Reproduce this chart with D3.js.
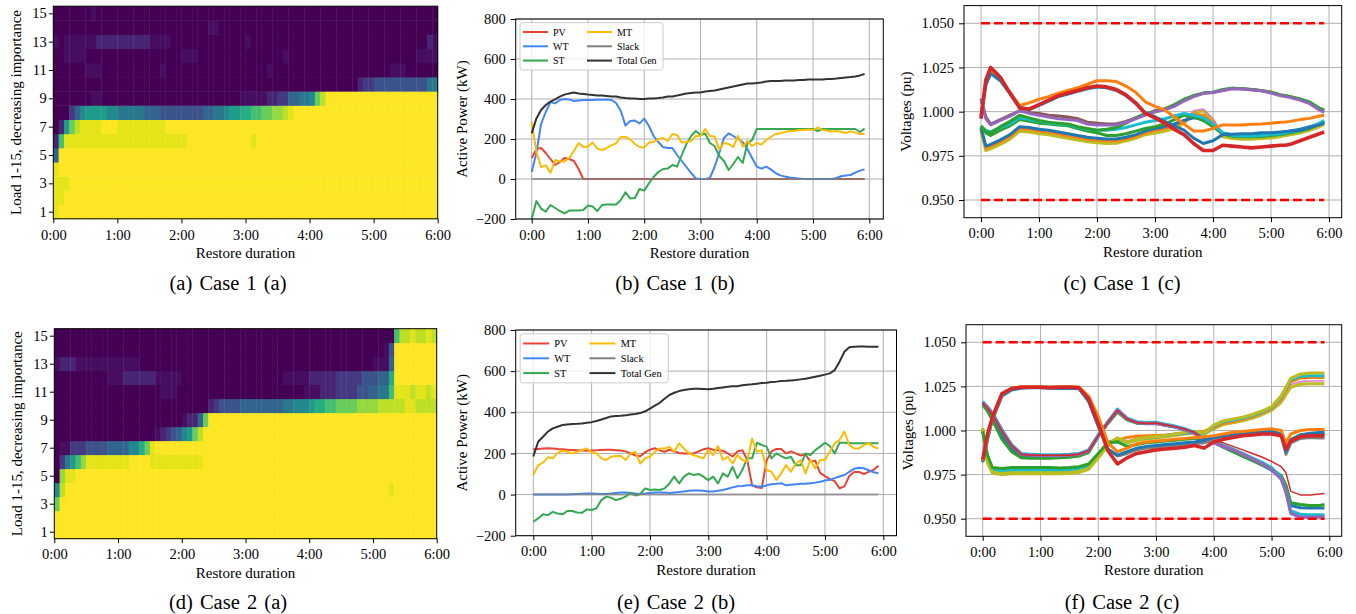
<!DOCTYPE html>
<html>
<head>
<meta charset="utf-8">
<script src="https://cdnjs.cloudflare.com/ajax/libs/d3/7.8.5/d3.min.js"></script>
<style>
  body { margin: 0; background: #ffffff; }
  svg { display: block; }
  svg text { font-family: "Liberation Serif", "Times New Roman", serif; }
</style>
</head>
<body>
<svg></svg>
<script>
const width = 1356;
const height = 614;
const serif = "'Liberation Serif', 'Times New Roman', serif";

// ---------- data ----------
const hourTicks = [0, 1, 2, 3, 4, 5, 6];
const hourLabels = ["0:00", "1:00", "2:00", "3:00", "4:00", "5:00", "6:00"];
const loadTicks = [1, 3, 5, 7, 9, 11, 13, 15];
const powerTicks = [-200, 0, 200, 400, 600, 800];
const voltTicks = [0.950, 0.975, 1.000, 1.025, 1.050];
const voltLimits = [1.05, 0.95];

// 5 minute steps for the power charts
const powerMin = d3.range(0, 360, 5);
// sample times (min) of the voltage traces
const voltMin = [0,5,10,20,30,40,50,60,70,80,90,100,110,120,130,140,150,160,170,180,
  190,200,210,220,230,240,250,260,270,280,290,300,310,315,320,330,340,350,355];

// heatmap: one string per load (load 1 first), 72 columns of 5 min,
// each hex code is a restored fraction read from the colour, see heatLevels
const heatLevels = [0, 0.035, 0.1, 0.17, 0.25, 0.32, 0.4, 0.47, 0.55, 0.62, 0.7, 0.77, 0.84, 0.9, 0.96, 1];
const case1Loads = [
  "EFFFFFFFFFFF FFFFFFFFFFFF FFFFFFFFFFFF FFFFFFFFFFFF FFFFFFFFFFFF FFFFFFFFFFFF",
  "EEFFFFFFFFFF FFFFFFFFFFFF FFFFFFFFFFFF FFFFFFFFFFFF FFFFFFFFFFFF FFFFFFFFFFFF",
  "EEEFFFFFFFFF FFFFFFFFFFFF FFFFFFFFFFFF FFFFFFFFFFFF FFFFFFFFFFFF FFFFFFFFFFFF",
  "EFFFFFFFFFFF FFFFFFFFFFFF FFFFFFFFFFFF FFFFFFFFFFFF FFFFFFFFFFFF FFFFFFFFFFFF",
  "5FFFFFFFFFFF FFFFFFFFFFFF FFFFFFFFFFFF FFFFFFFFFFFF FFFFFFFFFFFF FFFFFFFFFFFF",
  "2AEEEEEEEEEE EEEEEEEEEEEE EFFFFFFFFFFF FEFFFFFFFFFF FFFFFFFFFFFF FFFFFFFFFFFF",
  "028BDEEEEFFF EEEEEEEEEFFF FFFFFFFFFFFF FFFFFFFFFFFF FFFFFFFFFFFF FFFFFFFFFFFF",
  "000357888877 666665554444 444455667889 9AABBCCDEFFF FFFFFFFFFFFF FFFFFFFFFFFF",
  "000000011000 000000000000 000000000001 111122335566 7BDFFFFFFFFF FFFFFFFFFFFF",
  "000000000000 000000000000 000000000000 000000000000 000000000233 444444444466",
  "000000111000 000000001000 000000000000 000010000000 000000000000 000111000000",
  "001111000000 000000000000 111000000000 000000010000 000000000000 000000001111",
  "101111112222 222222111100 000000000000 100000000000 000000000000 000000000021",
  "000000000000 000000000000 000001100000 000000000000 000000000000 000000000000",
  "000000010000 000000000000 000000000000 000000000000 000000000000 000000000000"
];
const case2Loads = [
  "FFFFFFFFFFFF FFFFFFFFFFFF FFFFFFFFFFFF FFFFFFFFFFFF FFFFFFFFFFFF FFFFFFFFFFFF",
  "FFFFFFFFFFFF FFFFFFFFFFFF FFFFFFFFFFFF FFFFFFFFFFFF FFFFFFFFFFFF FFFFFFFFFFFF",
  "BFFFFFFFFFFF FFFFFFFFFFFF FFFFFFFFFFFF FFFFFFFFFFFF FFFFFFFFFFFF FFFFFFFFFFFF",
  "7DFFFFFFFFFF FFFFFFFFFFFF FFFFFFFFFFFF FFFFFFFFFFFF FFFFFFFFFFFF FFFEFFFFFFFF",
  "0CEEFFFFFFFF FFFFFFFFFFFF FFFFFFFFFFFF FFFFFFFFFFFF FFFFFFFFFFFF FFFFFFFFFFFF",
  "0368ACEEEEEE EEFFFFEEEEEE EEEEFFFFFFFF FFFFFFFFFFFF FFFFFFFFFFFF FFFFFFFFFFFF",
  "011333444455 55779BEFFFFF FFFFFFFFFFFF FFFFFFFFFFFF FFFFFFFFFFFF FFFFFFFFFFFF",
  "000000000000 000000012345 78BDFFFFFFFF FFFFFFFFFFFF FFFFFFFFFFFF FFFFFFFFFFFF",
  "000000000000 000000000000 1225BFFFFFFF FFFFFFFFFFFF FFFFFFFFFFFF FFFFFFFFFFFF",
  "000000000000 000000000000 000002344445 555555566777 899AABBBBCCC CDDDDDEEDDDD",
  "000000000000 000000001110 000000000000 000000000001 112223333445 566AEEEDEEDE",
  "000000000011 122222211111 000000000000 000000011111 222223333344 4559FFFFFFFF",
  "122211111111 111100000000 000000000000 000000000000 000000000000 1115FFFFFFFF",
  "000000000000 000000000000 000000000000 000000000000 000000000000 0014FFFFFFFF",
  "000000000000 000000000000 000000000000 000000000000 000000000000 0000ADDEDDED"
];

// active power (kW), case 1
const case1PV = [105,150,155,130,100,70,85,105,100,90,50,0, 0,0,0,0,0,0,0,0,0,0,0,0,
  0,0,0,0,0,0,0,0,0,0,0,0, 0,0,0,0,0,0,0,0,0,0,0,0, 0,0,0,0,0,0,0,0,0,0,0,0, 0,0,0,0,0,0,0,0,0,0,0,0];
const case1WT = [35,130,275,335,385,378,395,400,398,390,393,395, 395,395,396,396,397,395,380,340,267,290,292,278,
  302,265,215,185,160,155,155,120,90,60,30,3, 0,0,5,60,130,205,228,215,200,185,150,105,
  62,52,62,48,30,18,12,8,5,2,0,0, 0,0,0,0,0,5,14,17,20,32,42,48];
const case1ST = [-200,-110,-148,-163,-130,-145,-160,-172,-158,-158,-157,-155, -133,-138,-160,-130,-127,-127,-127,-105,-67,-97,-95,-50,
  -58,-22,10,35,50,52,70,62,120,175,215,240, 220,228,180,165,115,90,45,75,110,80,178,195,
  250,250,250,250,250,250,250,250,250,250,250,250, 250,240,250,250,250,250,250,250,250,250,235,252];
const case1MT = [285,135,60,68,32,95,88,88,105,140,180,160, 162,182,152,145,155,168,178,210,210,198,175,160,
  158,182,185,198,205,190,225,220,182,185,190,215, 215,250,215,212,148,180,175,160,215,162,190,165,
  180,172,195,210,225,228,235,240,240,245,245,248, 245,258,245,242,238,240,236,230,238,232,225,225];
const case1Slack = [0,0,0,0,0,0,0,0,0,0,0,0, 0,0,0,0,0,0,0,0,0,0,0,0, 0,0,0,0,0,0,0,0,0,0,0,0,
  0,0,0,0,0,0,0,0,0,0,0,0, 0,0,0,0,0,0,0,0,0,0,0,0, 0,0,0,0,0,0,0,0,0,0,0,0];
const case1Total = [228,303,345,370,387,398,412,422,428,432,428,425, 422,420,418,417,415,413,412,408,405,403,402,400,
  400,402,403,405,408,412,413,417,422,427,430,432, 433,437,440,443,448,453,458,463,468,473,477,478,
  480,483,488,490,490,490,492,492,493,495,495,497, 497,498,498,500,500,502,505,508,510,513,518,525];

// active power (kW), case 2
const case2PV = [220,222,224,225,224,221,220,218,217,216,214,213, 214,215,217,218,218,216,214,210,200,190,186,205,
  218,225,215,208,218,210,202,200,200,200,210,220, 225,218,215,213,200,185,210,215,170,45,35,32,
  165,210,222,222,200,210,200,190,195,160,165,105, 90,75,65,30,40,90,110,110,100,110,120,140];
const case2WT = [0,0,0,0,0,0,0,0,2,3,4,5, 5,4,3,3,5,8,10,10,8,5,3,5,
  8,10,10,10,8,10,12,15,18,20,20,18, 15,15,18,22,28,35,40,42,45,45,40,38,
  45,50,52,55,45,48,50,52,52,55,58,62, 68,72,80,88,95,110,125,130,128,118,108,104];
const case2ST = [-132,-116,-96,-100,-84,-92,-96,-80,-80,-87,-89,-72, -75,-67,-27,-10,-15,-27,-20,-10,9,-5,3,30,
  22,25,22,30,54,87,54,87,103,95,100,87, 70,87,54,103,87,135,79,119,176,176,252,241,
  233,176,200,187,176,184,143,143,200,192,216,233, 252,236,200,252,252,250,250,250,250,250,250,249];
const case2MT = [95,143,155,181,176,203,213,208,200,208,216,224, 205,200,176,168,184,187,187,168,200,208,151,176,
  184,208,224,224,232,208,249,224,200,192,184,176, 216,192,236,168,184,151,192,168,160,273,208,216,
  119,111,71,103,143,111,151,168,103,168,127,168, 168,208,249,265,306,241,224,224,241,249,232,224];
const case2Slack = [0,0,0,0,0,0,0,0,0,0,0,0, 0,0,0,0,0,0,0,0,0,0,0,0, 0,0,0,0,0,0,0,0,0,0,0,0,
  0,0,0,0,0,0,0,0,0,0,0,0, 0,0,0,0,0,0,0,0,0,0,0,0, 0,0,0,0,0,0,0,0,0,0,0,0];
const case2Total = [185,257,281,306,322,330,338,341,343,344,346,349, 352,358,365,372,380,382,383,385,389,392,396,405,
  418,432,446,466,484,495,503,508,512,514,514,513, 512,514,518,521,524,526,527,531,534,536,539,542,
  544,547,549,552,553,555,557,560,563,568,573,578, 583,589,605,646,694,716,719,720,720,719,719,719];

const seriesNames = ["PV", "WT", "ST", "MT", "Slack", "Total Gen"];

// bus voltages (pu), case 1
const c1vRed = [0.996,1.018,1.025,1.0195,1.0105,1.002,1.0015,1.004,1.0065,1.009,1.0105,1.012,1.0135,1.0145,1.014,1.0125,1.0095,1.005,0.999,0.9965,
  0.9935,0.990,0.987,0.982,0.978,0.978,0.981,0.9805,0.980,0.9795,0.980,0.9805,0.981,0.981,0.9815,0.9835,0.9855,0.9875,0.9885];
const c1vBlue = [0.998,1.015,1.0215,1.0175,1.010,1.0025,1.0012,1.0035,1.006,1.0085,1.010,1.0115,1.013,1.014,1.0135,1.012,1.009,1.0045,0.9995,0.997,
  0.9945,0.992,0.9895,0.985,0.982,0.9835,0.987,0.9872,0.9875,0.9875,0.988,0.988,0.9885,0.9888,0.989,0.9895,0.991,0.9925,0.9935];
const c1vOrange = [0.997,1.016,1.0225,1.018,1.011,1.0035,1.005,1.007,1.0085,1.0105,1.012,1.0135,1.0155,1.0175,1.0175,1.017,1.0145,1.011,1.0055,1.003,
  1.001,0.997,0.993,0.989,0.989,0.9905,0.9925,0.9925,0.9925,0.9928,0.993,0.9935,0.994,0.9942,0.9945,0.9955,0.9962,0.9975,0.998];
const c1vBrown = [1.007,0.997,0.993,0.9955,0.998,1.0005,0.9995,0.999,0.998,0.9975,0.997,0.996,0.994,0.9935,0.993,0.993,0.9945,0.9965,0.9985,1.0005,
  1.0015,1.0035,1.0065,1.009,1.0105,1.011,1.012,1.0132,1.013,1.0125,1.012,1.011,1.0095,1.009,1.0085,1.007,1.005,1.0015,1.0005];
const c1vPurple = [1.0075,0.996,0.9925,0.995,0.9975,1.0005,0.999,0.998,0.997,0.996,0.9955,0.995,0.993,0.9925,0.9925,0.9925,0.994,0.996,0.998,1.000,
  1.001,1.003,1.006,1.0085,1.0102,1.0108,1.012,1.013,1.0128,1.0122,1.0118,1.0105,1.009,1.0085,1.008,1.0065,1.0045,1.001,0.9995];
const c1vGreen = [0.992,0.9885,0.988,0.9915,0.9945,0.998,0.9965,0.995,0.994,0.9935,0.993,0.9915,0.9905,0.9895,0.990,0.991,0.9935,0.9965,0.999,1.000,
  1.0015,1.004,1.007,1.009,1.0105,1.011,1.0125,1.0132,1.013,1.0125,1.0118,1.011,1.0095,1.009,1.0085,1.0072,1.0055,1.002,1.001];
const c1vCyan = [0.9915,0.9895,0.9885,0.991,0.993,0.9965,0.9955,0.9945,0.9935,0.993,0.9925,0.991,0.990,0.9895,0.9895,0.990,0.991,0.9925,0.994,0.995,
  0.996,0.9975,0.999,0.998,0.9965,0.993,0.988,0.9865,0.9862,0.9862,0.9865,0.987,0.9875,0.988,0.9885,0.9895,0.991,0.9935,0.995];
const c1vGreen2 = [0.991,0.988,0.9865,0.9895,0.992,0.9955,0.9945,0.9935,0.993,0.9925,0.992,0.9905,0.989,0.988,0.9865,0.9865,0.9875,0.989,0.9905,0.9915,
  0.993,0.9955,0.998,0.997,0.995,0.9915,0.9875,0.986,0.9858,0.9858,0.986,0.9865,0.987,0.9875,0.988,0.989,0.9905,0.993,0.9945];
const c1vBlue2 = [0.991,0.9805,0.9815,0.984,0.987,0.9915,0.991,0.990,0.9895,0.9885,0.9875,0.9865,0.9855,0.985,0.9845,0.9845,0.9855,0.987,0.989,0.9905,
  0.9915,0.993,0.995,0.9965,0.996,0.992,0.988,0.987,0.9868,0.9868,0.987,0.9875,0.988,0.9885,0.989,0.990,0.9915,0.993,0.9945];
const c1vOrange2 = [0.9905,0.9795,0.9805,0.983,0.986,0.9905,0.990,0.989,0.9885,0.9875,0.9865,0.9855,0.9845,0.984,0.9835,0.9835,0.9845,0.986,0.988,0.9895,
  0.9905,0.992,0.9945,0.9985,0.998,0.9935,0.9875,0.9862,0.986,0.986,0.9862,0.9868,0.9875,0.988,0.9885,0.9895,0.991,0.993,0.994];
const c1vPink = [0.9905,0.9792,0.9802,0.9827,0.9857,0.9902,0.9897,0.9887,0.9882,0.9872,0.9862,0.9852,0.9842,0.9837,0.9832,0.9834,0.9847,0.9862,0.9882,0.9892,
  0.9902,0.9917,0.9947,1.0005,1.0015,0.996,0.9872,0.986,0.9857,0.9857,0.986,0.9864,0.9872,0.9877,0.9882,0.9892,0.9907,0.9927,0.9942];
const c1vOlive = [0.9895,0.978,0.979,0.9815,0.9845,0.989,0.9885,0.9875,0.987,0.986,0.985,0.984,0.983,0.9825,0.982,0.9822,0.9835,0.985,0.987,0.988,
  0.989,0.9905,0.9935,0.9995,1.0005,0.995,0.986,0.9848,0.9845,0.9845,0.9848,0.9852,0.986,0.9865,0.987,0.988,0.9895,0.9915,0.993];

// bus voltages (pu), case 2
const c2vGray = [0.9825,0.996,1.0065,1.020,1.0235,1.0247,1.0248,1.0248,1.0246,1.0247,1.0248,1.0243,1.017,1.003,0.9895,0.9855,0.987,0.989,0.990,0.9905,
  0.991,0.9915,0.992,0.9925,0.993,0.995,0.996,0.997,0.998,0.9985,0.999,0.999,0.9975,0.9865,0.993,0.9955,0.996,0.9958,0.9958];
const c2vBlue = [0.982,0.995,1.006,1.0195,1.023,1.024,1.0242,1.0242,1.024,1.0238,1.024,1.0236,1.0165,1.0025,0.9895,0.986,0.988,0.990,0.991,0.9915,
  0.992,0.9925,0.993,0.9935,0.9945,0.996,0.997,0.998,0.9985,0.999,0.9995,0.9995,0.998,0.988,0.9945,0.9975,0.9985,0.9988,0.9988];
const c2vOrange = [0.983,0.9965,1.007,1.0205,1.024,1.0248,1.0248,1.0247,1.0245,1.0248,1.0248,1.0246,1.0195,1.008,0.993,0.988,0.990,0.9925,0.9935,0.994,
  0.9945,0.995,0.9955,0.996,0.9965,0.997,0.998,0.999,0.9995,1.000,1.0005,1.001,1.000,0.993,0.998,1.000,1.0005,1.0005,1.0005];
const c2vRed = [0.9835,0.998,1.0075,1.021,1.0238,1.0245,1.0245,1.0245,1.0242,1.0245,1.0245,1.0242,1.018,1.004,0.9885,0.981,0.9845,0.987,0.988,0.989,
  0.9895,0.990,0.9905,0.9915,0.990,0.9935,0.995,0.996,0.997,0.9975,0.998,0.998,0.997,0.9895,0.994,0.9965,0.997,0.997,0.997];
const c2vCyan = [1.0165,1.0135,1.010,1.0005,0.992,0.987,0.9865,0.9862,0.9862,0.9862,0.9865,0.987,0.989,0.9975,1.005,1.0122,1.007,1.005,1.0046,1.0047,
  1.0035,1.0025,1.001,0.999,0.9945,0.9937,0.9915,0.9895,0.987,0.9845,0.982,0.979,0.9735,0.966,0.9545,0.9525,0.9522,0.9522,0.9522];
const c2vPurple = [1.016,1.013,1.0095,1.000,0.9915,0.9865,0.986,0.9857,0.9857,0.9857,0.986,0.9865,0.9885,0.997,1.0045,1.0115,1.0065,1.0045,1.004,1.0042,
  1.003,1.002,1.0005,0.9985,0.994,0.993,0.991,0.989,0.9865,0.984,0.9812,0.978,0.9725,0.965,0.953,0.951,0.9508,0.951,0.951];
const c2vGreen = [1.0145,1.011,1.006,0.995,0.988,0.9845,0.9843,0.9843,0.9843,0.9845,0.9848,0.9855,0.9875,0.9965,1.004,1.0105,1.006,1.0042,1.0038,1.004,
  1.003,1.002,1.0005,0.9985,0.995,0.9935,0.9905,0.988,0.9855,0.983,0.9805,0.978,0.9745,0.969,0.959,0.958,0.9575,0.9575,0.958];
const c2vBlue2 = [1.0155,1.012,1.0075,0.997,0.9895,0.9855,0.985,0.985,0.985,0.985,0.9852,0.986,0.988,0.997,1.0045,1.011,1.0062,1.0043,1.0039,1.0041,
  1.003,1.002,1.0005,0.9985,0.9945,0.9932,0.9905,0.988,0.9855,0.983,0.9805,0.9775,0.9735,0.967,0.9575,0.9562,0.956,0.956,0.956];
const c2vRed2 = [1.0155,1.0125,1.009,0.9995,0.9915,0.9865,0.986,0.986,0.986,0.986,0.986,0.9865,0.9885,0.997,1.0045,1.0115,1.0065,1.0045,1.004,1.0042,
  1.0032,1.0022,1.0008,0.999,0.9955,0.9945,0.993,0.991,0.989,0.987,0.985,0.9825,0.9795,0.976,0.9655,0.9635,0.9635,0.964,0.9643];
const c2vOliveTop = [1.0015,0.982,0.9765,0.9755,0.976,0.976,0.976,0.976,0.976,0.976,0.9762,0.9768,0.9785,0.985,0.992,0.9958,0.9935,0.995,0.996,0.9965,
  0.997,0.998,0.999,0.9995,0.9985,1.003,1.0055,1.0065,1.0075,1.009,1.011,1.0135,1.0195,1.0245,1.0295,1.032,1.0325,1.0326,1.0326];
const c2vCyan2 = [1.0005,0.983,0.978,0.977,0.9775,0.9775,0.9775,0.9775,0.9775,0.9775,0.9777,0.9782,0.98,0.986,0.9925,0.9955,0.9935,0.995,0.9958,0.9963,
  0.997,0.998,0.9985,0.999,0.998,1.0025,1.005,1.006,1.007,1.0085,1.0105,1.013,1.019,1.024,1.0285,1.0308,1.031,1.031,1.031];
const c2vOrange2 = [1.000,0.984,0.9785,0.9772,0.9775,0.9775,0.9775,0.9775,0.9775,0.9772,0.9775,0.978,0.9795,0.9865,0.9935,0.9945,0.996,0.9968,0.997,0.9972,
  0.9975,0.998,0.9985,0.999,0.9995,1.002,1.004,1.005,1.0065,1.008,1.010,1.0125,1.018,1.023,1.0275,1.0298,1.030,1.030,1.030];
const c2vPink = [1.0,0.9835,0.978,0.9768,0.977,0.977,0.977,0.977,0.977,0.977,0.9772,0.9778,0.9795,0.986,0.9925,0.995,0.9935,0.9948,0.9955,0.996,
  0.9968,0.9975,0.998,0.9985,0.998,1.0015,1.004,1.005,1.006,1.0075,1.0095,1.012,1.017,1.022,1.026,1.0278,1.028,1.028,1.028];
const c2vOliveLow = [1.001,0.9815,0.976,0.975,0.9755,0.9755,0.9755,0.9755,0.9755,0.9755,0.9757,0.9762,0.978,0.9845,0.9915,0.9955,0.993,0.9945,0.9952,0.9958,
  0.9965,0.9972,0.998,0.9985,0.998,1.001,1.0035,1.0045,1.0055,1.007,1.009,1.0115,1.016,1.0205,1.0245,1.0263,1.0265,1.0265,1.0265];
const c2vGreen2 = [0.9995,0.986,0.979,0.9785,0.979,0.979,0.979,0.979,0.979,0.9788,0.979,0.9795,0.981,0.987,0.993,0.9935,0.991,0.992,0.993,0.9935,
  0.994,0.9945,0.995,0.9955,0.9955,0.9965,0.997,0.998,0.9985,0.999,0.9995,0.9995,0.998,0.989,0.995,0.9975,0.998,0.9982,0.9982];

// ---------- layout & styles ----------
const tab = d3.schemeCategory10;
const powerColors = ["#ea4335", "#4285f4", "#34a853", "#fbbc05", "#808080", "#333333"];

const panels = {
  a: { x0: 53.3, x1: 437.7, y0: 6.2, y1: 218.8, t0: 53.3, t6: 437.7, v15: 13.3, v1: 211.7 },
  d: { x0: 54.3, x1: 436.7, y0: 328.7, y1: 538.7, t0: 54.3, t6: 436.7, v15: 335.7, v1: 531.7 },
  b: { x0: 515.7, x1: 883.3, y0: 19, y1: 219, t0: 531.7, t6: 869.3 },
  e: { x0: 515.7, x1: 896.5, y0: 330, y1: 535.7, t0: 533.3, t6: 883.3 },
  c: { x0: 964, x1: 1341.7, y0: 5.6, y1: 217.7, t0: 981, t6: 1329, vHi: 23.3, vLo: 200 },
  f: { x0: 966, x1: 1341.7, y0: 324.7, y1: 536.3, t0: 982.7, t6: 1329.3, vHi: 342.3, vLo: 518.7 }
};

let svg = d3.select("svg")
  .attr("width", width)
  .attr("height", height)
  .attr("font-family", serif);

function styleAxis(g) {
  g.attr("font-family", serif).attr("font-size", 14.5);
  g.select(".domain").remove();
}

function addFrame(box) {
  svg.append("rect")
    .attr("x", box.x0).attr("y", box.y0)
    .attr("width", box.x1 - box.x0).attr("height", box.y1 - box.y0)
    .attr("fill", "none").attr("stroke", "#000").attr("stroke-width", 1);
}

function addXAxis(box, x) {
  svg.append("g")
    .attr("transform", `translate(0,${box.y1})`)
    .call(d3.axisBottom(x).tickValues(hourTicks).tickFormat(h => hourLabels[h])
      .tickSize(4.5).tickPadding(6).tickSizeOuter(0))
    .call(styleAxis);
  svg.append("text")
    .attr("x", (box.x0 + box.x1) / 2).attr("y", box.y1 + 39)
    .attr("text-anchor", "middle").attr("font-size", 15)
    .text("Restore duration");
}

function addYLabel(cx, box, label) {
  const cy = (box.y0 + box.y1) / 2;
  svg.append("text")
    .attr("transform", `translate(${cx},${cy}) rotate(-90)`)
    .attr("text-anchor", "middle").attr("dominant-baseline", "central")
    .attr("font-size", 15)
    .text(label);
}

function addGrid(box, x, y, yTicks) {
  const g = svg.append("g").attr("stroke", "#b0b0b0").attr("stroke-width", 1);
  hourTicks.forEach(h => g.append("line")
    .attr("x1", x(h)).attr("x2", x(h)).attr("y1", box.y0).attr("y2", box.y1));
  yTicks.forEach(v => g.append("line")
    .attr("x1", box.x0).attr("x2", box.x1).attr("y1", y(v)).attr("y2", y(v)));
}

function addCaption(cx, cy, text) {
  svg.append("text").attr("x", cx).attr("y", cy)
    .attr("text-anchor", "middle").attr("font-size", 20.5)
    .attr("word-spacing", 2)
    .text(text);
}

// ---------- heatmap ----------
function drawHeatmap(rows, box, ylabelX) {
  const x = d3.scaleLinear().domain([0, 6]).range([box.t0, box.t6]);
  const y = d3.scaleLinear().domain([1, 15]).range([box.v1, box.v15]);
  const cells = [];
  rows.forEach((row, r) => {
    row.replace(/ /g, "").split("").forEach((ch, c) => {
      cells.push({ load: r + 1, col: c, v: heatLevels[parseInt(ch, 16)] });
    });
  });
  const cw = x(5 / 60) - x(0);
  const ch = y(1) - y(2);
  svg.append("g").selectAll("rect")
    .data(cells)
    .enter()
    .append("rect")
    .attr("x", d => x(d.col * 5 / 60))
    .attr("y", d => y(d.load + 0.5))
    .attr("width", cw + 0.4)
    .attr("height", ch + 0.4)
    .attr("fill", d => d3.interpolateViridis(d.v));
  addFrame(box);
  addXAxis(box, x);
  svg.append("g")
    .attr("transform", `translate(${box.x0},0)`)
    .call(d3.axisLeft(y).tickValues(loadTicks).tickSize(4.5).tickPadding(2).tickSizeOuter(0))
    .call(styleAxis);
  addYLabel(ylabelX, box, "Load 1-15, decreasing importance");
}

// ---------- active power ----------
function drawPower(series, box) {
  const x = d3.scaleLinear().domain([0, 6]).range([box.t0, box.t6]);
  const y = d3.scaleLinear().domain([-200, 800]).range([box.y1, box.y0]);
  addGrid(box, x, y, powerTicks);

  const line = d3.line()
    .x((d, i) => x(powerMin[i] / 60))
    .y(d => y(d));
  series.forEach((vals, k) => {
    svg.append("path")
      .datum(vals)
      .attr("d", line)
      .attr("fill", "none")
      .attr("stroke", powerColors[k])
      .attr("stroke-opacity", seriesNames[k] === "Slack" ? 0.7 : 1)
      .attr("stroke-width", 2)
      .attr("stroke-linejoin", "round");
  });

  addFrame(box);
  addXAxis(box, x);
  svg.append("g")
    .attr("transform", `translate(${box.x0},0)`)
    .call(d3.axisLeft(y).tickValues(powerTicks).tickFormat(d3.format("d"))
      .tickSize(5).tickPadding(5).tickSizeOuter(0))
    .call(styleAxis);
  addYLabel(462, box, "Active Power (kW)");

  // legend, two columns
  const s = (box.x1 - box.x0) / 367.6;
  const lx = box.x0 + 4.3 * s;
  const ly = box.y0 + 3.7 * s;
  const leg = svg.append("g");
  leg.append("rect")
    .attr("x", lx).attr("y", ly)
    .attr("width", 143 * s).attr("height", 47.3 * s)
    .attr("rx", 2.5)
    .attr("fill", "#fff").attr("fill-opacity", 0.8)
    .attr("stroke", "#cccccc").attr("stroke-width", 1);
  seriesNames.forEach((name, k) => {
    const col = Math.floor(k / 3);
    const row = k % 3;
    const xx = lx + (col ? 67 : 3) * s;
    const yy = ly + (9.3 + row * 14.3) * s;
    leg.append("line")
      .attr("x1", xx).attr("x2", xx + 25 * s)
      .attr("y1", yy).attr("y2", yy)
      .attr("stroke", powerColors[k]).attr("stroke-width", 2);
    leg.append("text")
      .attr("x", xx + 30 * s).attr("y", yy)
      .attr("dy", "0.35em")
      .attr("font-size", 10 * s)
      .text(name);
  });
}

// ---------- voltages ----------
function drawVoltage(traces, box) {
  const x = d3.scaleLinear().domain([0, 6]).range([box.t0, box.t6]);
  const y = d3.scaleLinear().domain([0.95, 1.05]).range([box.vLo, box.vHi]);
  addGrid(box, x, y, voltTicks);

  const line = d3.line()
    .x((d, i) => x(voltMin[i] / 60))
    .y(d => y(d));
  traces.forEach(tr => {
    svg.append("path")
      .datum(tr.v)
      .attr("d", line)
      .attr("fill", "none")
      .attr("stroke", tr.c)
      .attr("stroke-width", tr.w)
      .attr("stroke-linejoin", "round");
  });

  // limits
  voltLimits.forEach(v => {
    svg.append("line")
      .attr("x1", x(0)).attr("x2", x(voltMin[voltMin.length - 1] / 60))
      .attr("y1", y(v)).attr("y2", y(v))
      .attr("stroke", "#ff0000").attr("stroke-width", 2.5)
      .attr("stroke-dasharray", "9,4");
  });

  addFrame(box);
  addXAxis(box, x);
  svg.append("g")
    .attr("transform", `translate(${box.x0},0)`)
    .call(d3.axisLeft(y).tickValues(voltTicks).tickFormat(d3.format(".3f"))
      .tickSize(5).tickPadding(5).tickSizeOuter(0))
    .call(styleAxis);
  addYLabel(box.x0 - 58, box, "Voltages (pu)");
}

// ---------- draw ----------
drawHeatmap(case1Loads, panels.a, 16);
drawHeatmap(case2Loads, panels.d, 17);

drawPower([case1PV, case1WT, case1ST, case1MT, case1Slack, case1Total], panels.b);
drawPower([case2PV, case2WT, case2ST, case2MT, case2Slack, case2Total], panels.e);

drawVoltage([
  { v: c1vOlive, c: tab[8], w: 3.2 },
  { v: c1vPink, c: tab[6], w: 1.5 },
  { v: c1vOrange2, c: tab[1], w: 3 },
  { v: c1vBlue2, c: tab[0], w: 3 },
  { v: c1vGreen2, c: tab[2], w: 3 },
  { v: c1vCyan, c: tab[9], w: 3 },
  { v: c1vBrown, c: tab[5], w: 3 },
  { v: c1vGreen, c: tab[2], w: 3 },
  { v: c1vPurple, c: tab[4], w: 3 },
  { v: c1vOrange, c: tab[1], w: 3 },
  { v: c1vBlue, c: tab[0], w: 3 },
  { v: c1vRed, c: tab[3], w: 3.6 }
], panels.c);

drawVoltage([
  { v: c2vOliveLow, c: tab[8], w: 3.2 },
  { v: c2vPink, c: tab[6], w: 1.5 },
  { v: c2vOrange2, c: tab[1], w: 3 },
  { v: c2vCyan2, c: tab[9], w: 3 },
  { v: c2vOliveTop, c: tab[8], w: 3.2 },
  { v: c2vGreen2, c: tab[2], w: 3 },
  { v: c2vBlue2, c: tab[0], w: 3 },
  { v: c2vGreen, c: tab[2], w: 3 },
  { v: c2vCyan, c: tab[9], w: 3 },
  { v: c2vPurple, c: tab[4], w: 3.2 },
  { v: c2vRed2, c: tab[3], w: 1.5 },
  { v: c2vGray, c: tab[7], w: 3 },
  { v: c2vBlue, c: tab[0], w: 3 },
  { v: c2vOrange, c: tab[1], w: 3 },
  { v: c2vRed, c: tab[3], w: 3.5 }
], panels.f);

addCaption(228, 290, "(a) Case 1 (a)");
addCaption(675, 290, "(b) Case 1 (b)");
addCaption(1122, 290, "(c) Case 1 (c)");
addCaption(228, 609, "(d) Case 2 (a)");
addCaption(676, 609, "(e) Case 2 (b)");
addCaption(1122, 609, "(f) Case 2 (c)");
</script>
</body>
</html>
